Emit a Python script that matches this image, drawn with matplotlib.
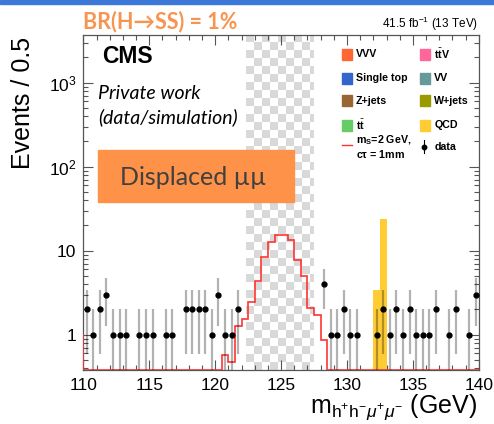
import numpy as np
import matplotlib
matplotlib.use("Agg")
import matplotlib.pyplot as plt
from matplotlib.patches import Rectangle
from matplotlib.lines import Line2D
from matplotlib.ticker import MultipleLocator, FixedLocator, FixedFormatter, LogLocator, NullFormatter

plt.rcParams['font.family'] = ['Liberation Sans', 'DejaVu Sans']
plt.rcParams['mathtext.fontset'] = 'custom'
plt.rcParams['mathtext.rm'] = 'Liberation Sans'
plt.rcParams['mathtext.it'] = 'Liberation Sans:italic'
plt.rcParams['mathtext.bf'] = 'Liberation Sans:bold'

# observed events per 0.5 GeV bin (bins inside the blinded window not shown)
data_x = [110.25, 110.75, 111.25, 111.75, 112.25, 112.75, 113.25, 114.25, 114.75, 115.25,
          116.25, 116.75, 117.75, 118.25, 118.75, 119.25, 119.75, 120.25, 120.75, 121.25,
          121.75,
          128.25, 128.75, 129.25, 129.75, 130.25, 130.75, 132.25, 132.75, 133.25, 133.75,
          134.25, 134.75, 135.25, 135.75, 136.25, 136.75, 137.75, 138.25, 139.25, 139.75]
data_n = [2, 1, 2, 3, 1, 1, 1, 1, 1, 1,
          1, 1, 2, 2, 2, 2, 1, 3, 1, 1,
          2,
          4, 1, 1, 2, 1, 1, 1, 2, 1, 2,
          1, 2, 1, 1, 1, 2, 1, 2, 1, 3]

# signal m_S = 2 GeV, ctau = 1 mm; first bin is the underflow (109.5-110)
sig_edges = np.arange(109.5, 140.01, 0.5)
sig_vals = ([1.0] + [0] * 21 +
            [0.57, 0.47, 1.28, 1.55, 2.45, 4.4, 8.4, 12.6, 15.5, 15.5,
             13.4, 7.8, 4.95, 2.1, 1.7, 0.86] +
            [0] * 23)

# background stack: only QCD is visible
qcd_edges = [132.0, 132.5, 133.0]
qcd_vals = [3.4, 24.0]

blind_lo, blind_hi = 122.34, 127.57
ymin, ymax = 0.38, 3700

leg_names = ['VVV', 'Single top', 'Z+jets', r'$\mathbf{t}\bar{\mathbf{t}}$',
             r'$\mathbf{t}\bar{\mathbf{t}}\mathbf{V}$', 'VV', 'W+jets', 'QCD']
leg_colors = ['#ff6633', '#3366cc', '#996633', '#66cc66',
              '#ff6699', '#669999', '#999900', '#ffcc33']

fig = plt.figure(figsize=(4.94, 4.24), dpi=100)
ax = fig.add_axes([83.4 / 494, 54 / 424, 395.4 / 494, 335 / 424])
ax.set_yscale('log')
ax.set_xlim(110, 140)
ax.set_ylim(ymin, ymax)
ax.set_autoscale_on(False)

# checkered blinded window
yy, xx = np.mgrid[0:335, 0:69]
chk = np.where(((yy // 8) + (xx // 8)) % 2 == 0, 0.85, 1.0)
ax.imshow(chk, cmap='gray', vmin=0, vmax=1, origin='upper', aspect='auto',
          interpolation='nearest', extent=(blind_lo, blind_hi, 0, 1),
          transform=ax.get_xaxis_transform(), zorder=0.5)

ax.stairs(qcd_vals, qcd_edges, baseline=ymin, fill=True, color='#ffcc33', zorder=2)

sig_plot = np.where(np.array(sig_vals) > 0, sig_vals, ymin)
ax.stairs(sig_plot, sig_edges, baseline=ymin, color='#ff3333', lw=1.2, zorder=3)

dn = np.array(data_n, dtype=float)
ax.errorbar(data_x, dn, yerr=np.sqrt(dn), fmt='o', color='k', ms=3.5,
            ecolor=(0, 0, 0, 0.3), elinewidth=1.6, capsize=0, zorder=4)

ax.xaxis.set_major_locator(MultipleLocator(5))
ax.xaxis.set_minor_locator(MultipleLocator(1))
ax.yaxis.set_major_locator(FixedLocator([1, 10, 100, 1000]))
ax.yaxis.set_major_formatter(FixedFormatter(['1', '10', '$10^{2}$', '$10^{3}$']))
ax.yaxis.set_minor_locator(LogLocator(base=10, subs=np.arange(2, 10)))
ax.yaxis.set_minor_formatter(NullFormatter())
ax.tick_params(which='both', direction='in', top=True, right=True,
               color='#555555', width=0.8, labelsize=12.5)
ax.tick_params(which='major', length=7)
ax.tick_params(which='minor', length=3.5)
ax.tick_params(axis='x', pad=6)
ax.tick_params(axis='y', pad=5)
for s in ax.spines.values():
    s.set_color('#555555')
    s.set_linewidth(0.9)

# legend, drawn by hand in two columns
rows_y = [0.943, 0.871, 0.804, 0.731]
for i, (name, c) in enumerate(zip(leg_names, leg_colors)):
    col = i // 4
    bx = [0.653, 0.851][col]
    tx = [0.689, 0.8875][col]
    y = rows_y[i % 4]
    ax.add_patch(Rectangle((bx, y - 0.0165), 0.0268, 0.033, transform=ax.transAxes,
                           color=c, zorder=6))
    ax.text(tx, y, name, transform=ax.transAxes, fontsize=7.7, fontweight='bold',
            va='center', ha='left', zorder=6)
ax.add_line(Line2D([0.653, 0.68], [0.672, 0.672], transform=ax.transAxes,
                   color='#ff3333', lw=1.0, zorder=6))
ax.text(0.689, 0.687, r'm$_{\mathbf{S}}$=2 GeV,', transform=ax.transAxes, fontsize=7.7,
        fontweight='bold', va='center', ha='left', zorder=6)
ax.text(0.689, 0.645, r'c$\mathbf{\tau}$ = 1mm', transform=ax.transAxes, fontsize=7.7,
        fontweight='bold', va='center', ha='left', zorder=6)
ax.add_line(Line2D([0.862, 0.862], [0.648, 0.686], transform=ax.transAxes,
                   color='k', lw=0.8, zorder=6))
ax.add_line(Line2D([0.862], [0.667], transform=ax.transAxes, marker='o', ms=3.2,
                   color='k', zorder=6))
ax.text(0.8875, 0.667, 'data', transform=ax.transAxes, fontsize=7.7, fontweight='bold',
        va='center', ha='left', zorder=6)

W, H = 494.0, 424.0
# top blue strip
fig.add_artist(Rectangle((0, 1 - 4 / H), 1, 4 / H, transform=fig.transFigure,
                         color='#3c78d8', zorder=1))
fig.text(83 / W, 1 - 28.5 / H, 'BR(H\u2192SS) = 1%', color='#f79450', fontsize=15.5,
         fontweight='bold', family=['Lato', 'DejaVu Sans'], ha='left', va='baseline')
fig.text(478 / W, 1 - 28.3 / H, r'41.5 fb$^{-1}$ (13 TeV)', fontsize=8.5,
         ha='right', va='baseline')
fig.text(102 / W, 1 - 63 / H, 'CMS', fontsize=16.5, fontweight='bold',
         ha='left', va='baseline')
fig.text(98 / W, 1 - 99.3 / H, 'Private work', fontsize=14, style='italic',
         family=['Lato', 'DejaVu Sans'], ha='left', va='baseline')
fig.text(98 / W, 1 - 122.7 / H, '(data/simulation)', fontsize=14, style='italic',
         family=['Lato', 'DejaVu Sans'], ha='left', va='baseline')
fig.add_artist(Rectangle((98 / W, 1 - 202 / H), 196 / W, 52 / H, transform=fig.transFigure,
                         color='#fd9248', zorder=2))
fig.text(120 / W, 1 - 185 / H, 'Displaced \u00b5\u00b5', fontsize=18, color='#404040',
         family=['Lato', 'DejaVu Sans'], ha='left', va='baseline', zorder=3)
fig.text(23 / W, 1 - 37 / H, 'Events / 0.5', fontsize=18, rotation=90,
         ha='center', va='top')
fig.text(477 / W, 1 - 413 / H, r'm$_{\mathrm{h^{+}h^{-}}\mu^{+}\mu^{-}}$ (GeV)',
         fontsize=18, ha='right', va='baseline')

fig.savefig('out.png', dpi=100)
